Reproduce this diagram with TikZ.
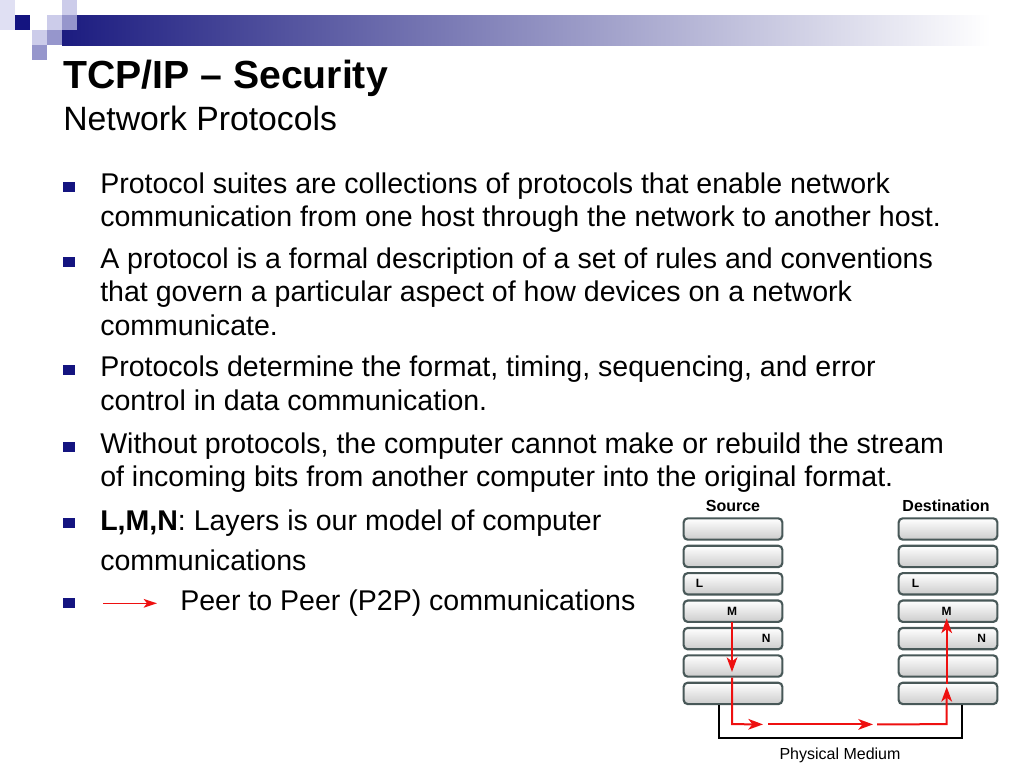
\documentclass[tikz,border=0pt]{standalone}
\usepackage{fontspec}
\setmainfont{Liberation Sans}
\usepackage{xcolor}
\usepackage{tikz}
\usetikzlibrary{arrows.meta,calc}
\usetikzlibrary{positioning}

\definecolor{navy}{RGB}{20,20,128}
\definecolor{barblue}{RGB}{28,28,128}
\definecolor{lavlight}{RGB}{204,204,234}
\definecolor{lavmid}{RGB}{150,150,204}
\definecolor{edgegray}{RGB}{72,88,88}
\definecolor{peerred}{RGB}{238,16,16}

\tikzset{
    layer/.style={draw=edgegray, line width=1.6pt, rounded corners=3pt, top color=white, bottom color=black!20, minimum width=74pt, minimum height=16pt, inner sep=0pt},
    bullet/.style={fill=navy, minimum width=8.7pt, minimum height=7.5pt, inner sep=0pt},
    body/.style={anchor=base west, inner sep=0pt, font=\fontsize{21.4}{25}\selectfont},
    tag/.style={inner sep=0pt, font=\fontsize{9}{10}\selectfont\bfseries},
    head/.style={inner sep=0pt, font=\fontsize{12}{14}\selectfont\bfseries},
    peer/.style={draw=peerred, line width=1.5pt, -{Stealth[length=11pt,width=8pt,inset=3pt]}},
    medium/.style={draw=black, line width=1.5pt}
}

\begin{document}
\begin{tikzpicture}[x=0.75pt, y=-0.75pt]
            \useasboundingbox[fill=white] (0,0) rectangle (1024,768);

            \fill[left color=barblue, right color=white] (62,15) rectangle (990,45);
            \fill[lavlight!60] (0,0) rectangle (15,30);
            \foreach \x/\y/\c in {62/0/lavlight, 15/15/navy, 47/15/lavlight, 62/15/lavmid, 32/30/lavlight, 47/30/lavmid, 32/45/lavmid}
                \fill[\c] (\x,\y) rectangle ++(15,15);

            \node[anchor=base west, inner sep=0pt, font=\fontsize{29.4}{33}\selectfont\bfseries] (title) at (63,88.3) {TCP/IP – Security};
            \node[anchor=base west, inner sep=0pt, font=\fontsize{25.3}{29}\selectfont] (subtitle) at (63,130) {Network Protocols};

            \foreach \y [count=\i] in {186.6,261.6,370,446.6,523.3,603.3}
                \node[bullet] (b\i) at (69.2,\y) {};

            \node[body] (t1) at (100,193.3) {Protocol suites are collections of protocols that enable network};
            \node[body] (t2) at (100,226.7) {communication from one host through the network to another host.};
            \node[body] (t3) at (100,268.3) {A protocol is a formal description of a set of rules and conventions};
            \node[body] (t4) at (100,301.7) {that govern a particular aspect of how devices on a network};
            \node[body] (t5) at (100,335) {communicate.};
            \node[body] (t6) at (100,376.7) {Protocols determine the format, timing, sequencing, and error};
            \node[body] (t7) at (100,410.5) {control in data communication.};
            \node[body] (t8) at (100,453.3) {Without protocols, the computer cannot make or rebuild the stream};
            \node[body] (t9) at (100,486.7) {of incoming bits from another computer into the original format.};
            \node[body] (t10) at (100,530) {\textbf{L,M,N}: Layers is our model of computer};
            \node[body] (t11) at (100,570) {communications};
            \node[body] (t12) at (180,610) {Peer to Peer (P2P) communications};

            \coordinate (keyA) at (103,603.3);
            \coordinate (keyB) at (157,603.3);
            \draw[draw=peerred, line width=1.2pt, -{Stealth[length=10pt,width=6.5pt,inset=2.5pt]}] (keyA) -- (keyB);

            \foreach \y [count=\i] in {529,556.4,583.8,611.2,638.6,666,693.4} {
                \node[layer] (s\i) at (733,\y) {};
                \node[layer] (d\i) at (948,\y) {};
            }

            \node[head, above=4pt of s1] (src) {Source};
            \node[head, above=4pt of d1, xshift=-1.5pt] (dst) {Destination};

            \node[tag, anchor=west] (sL) at (695.5,583.8) {L};
            \node[tag] (sM) at (732,611.2) {M};
            \node[tag, anchor=west] (sN) at (761.5,638.6) {N};
            \node[tag, anchor=west] (dL) at (911.5,583.8) {L};
            \node[tag] (dM) at (946.5,611.2) {M};
            \node[tag, anchor=west] (dN) at (977,638.6) {N};

            \draw[medium] ($(s7.south)+(-14,0)$) -- ++(0,33) -| ($(d7.south)+(14,0)$);
            \node[anchor=base, inner sep=0pt, font=\fontsize{12}{14}\selectfont] (phys) at (840,759) {Physical Medium};

            \coordinate (low) at ($(s7.south)+(-1,19)$);
            \coordinate (g1) at (763,724.4);
            \coordinate (g2) at (768,724.4);
            \coordinate (g3) at (873,724.4);
            \coordinate (g4) at (877,724.4);
            \coordinate (up) at ($(d7.south)+(-1.3,19)$);

            \draw[peer] ($(s4.south)+(-1,-1)$) -- ($(s6.center)+(-1,6)$);
            \draw[peer] ($(s6.south)+(-1,0)$) -- (low) -- (g1);
            \draw[peer] (g2) -- (g3);
            \draw[peer] (g4) -- (up) -- ($(d7.center)+(-1.3,-6.5)$);
            \draw[peer] ($(d7.north)+(-1.3,2)$) -- ($(d4.south)+(-1.3,-4.5)$);
        \end{tikzpicture}
\end{document}
